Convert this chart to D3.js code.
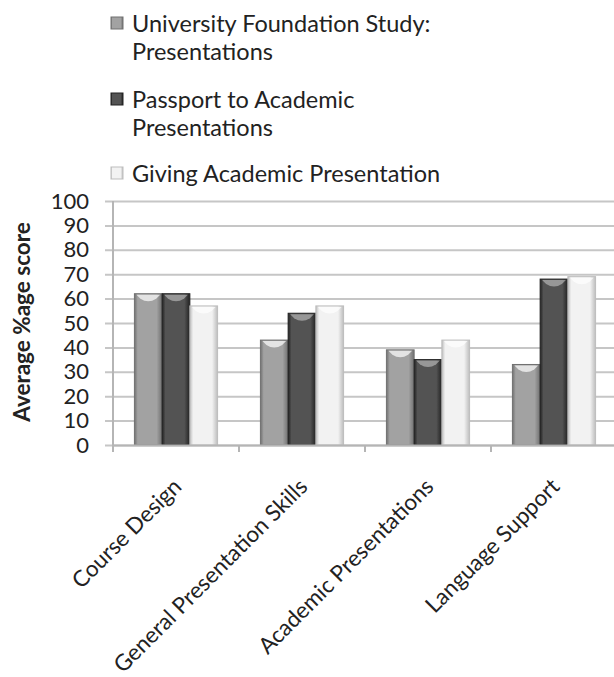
<!DOCTYPE html>
<html>
<head>
<meta charset="utf-8">
<script src="https://cdnjs.cloudflare.com/ajax/libs/d3/7.8.5/d3.min.js"></script>
<style>
  body { margin: 0; background: #fff; }
  text { font-family: Lato, "Open Sans", sans-serif; fill: #222; }
</style>
</head>
<body>
<div id="chart"></div>
<script>
const categories = ["Course Design", "General Presentation Skills", "Academic Presentations", "Language Support"];
const seriesNames = ["University Foundation Study: Presentations", "Passport to Academic Presentations", "Giving Academic Presentation"];
const foundationStudy = [62, 43, 39, 33];
const passportAcademic = [62, 54, 35, 68];
const givingAcademic = [57, 57, 43, 69];
const yTicks = [0, 10, 20, 30, 40, 50, 60, 70, 80, 90, 100];

const seriesValues = [foundationStudy, passportAcademic, givingAcademic];
// legend text split like the original wraps
const legendLines = [["University Foundation Study:", "Presentations"], ["Passport to Academic", "Presentations"], ["Giving Academic Presentation"]];
const shades = [
  { mid: "#a2a2a2", edge: "#707070" },
  { mid: "#535353", edge: "#222222" },
  { mid: "#f2f2f2", edge: "#bdbdbd" }
];

const W = 614, H = 677;
const margin = { top: 201, right: -3, bottom: 232, left: 113 };
const width = W - margin.left - margin.right;
const height = H - margin.top - margin.bottom;

const svg = d3.select("#chart").append("svg")
  .attr("width", W).attr("height", H);

const defs = svg.append("defs");
shades.forEach((s, i) => {
  const g = defs.append("linearGradient").attr("id", "bar" + i)
    .attr("x1", "0%").attr("x2", "100%").attr("y1", "0%").attr("y2", "0%");
  g.append("stop").attr("offset", "0%").attr("stop-color", s.edge);
  g.append("stop").attr("offset", "12%").attr("stop-color", s.mid);
  g.append("stop").attr("offset", "80%").attr("stop-color", s.mid);
  g.append("stop").attr("offset", "100%").attr("stop-color", s.edge);
});

const g = svg.append("g").attr("transform", `translate(${margin.left},${margin.top})`);

const x0 = d3.scaleBand().domain(categories).range([0, width]).paddingInner(0.34).paddingOuter(0.17);
const x1 = d3.scaleBand().domain(d3.range(seriesNames.length)).range([0, x0.bandwidth()]);
const y = d3.scaleLinear().domain([0, 100]).range([height, 0]);

// gridlines + y ticks
const yAxis = g.append("g")
  .call(d3.axisLeft(y).tickValues(yTicks).tickSize(-width).tickPadding(24));
yAxis.select(".domain").remove();
yAxis.selectAll(".tick line").attr("stroke", "#c6c6c6").attr("stroke-width", 2).attr("x1", -8);
yAxis.selectAll(".tick text").attr("font-size", 22).attr("fill", "#222")
  .style("font-family", "Lato, sans-serif");

g.append("line").attr("x1", 0).attr("x2", 0).attr("y1", 0).attr("y2", height)
  .attr("stroke", "#b5b5b5").attr("stroke-width", 2);

// bars
const groups = g.selectAll(".grp").data(categories).enter().append("g")
  .attr("transform", d => `translate(${x0(d)},0)`);

groups.each(function (cat, ci) {
  const gg = d3.select(this);
  seriesValues.forEach((vals, si) => {
    const bx = x1(si), bw = x1.bandwidth(), by = y(vals[ci]);
    gg.append("rect")
      .attr("x", bx).attr("y", by)
      .attr("width", bw).attr("height", height - by)
      .attr("fill", `url(#bar${si})`)
      .attr("stroke", shades[si].edge).attr("stroke-width", 1);
    // bevelled top, a chevron-ish highlight
    gg.append("path")
      .attr("d", `M${bx + 2},${by + 1}L${bx + bw - 2},${by + 1}L${bx + bw - 6},${by + 5}Q${bx + bw / 2},${by + 10} ${bx + 6},${by + 5}Z`)
      .attr("fill", "#fff").attr("opacity", si === 1 ? 0.4 : 0.7);
  });
});

// x axis
const xAxis = g.append("g").attr("transform", `translate(0,${height})`)
  .call(d3.axisBottom(x0).tickSize(0).tickFormat(""));
xAxis.select(".domain").attr("stroke", "#b5b5b5").attr("stroke-width", 2);
xAxis.selectAll(".tick").remove();
const bounds = [0].concat(categories.map(c => x0(c) + x0.bandwidth() + x0.step() * x0.paddingInner() / 2));
g.selectAll(".xtick").data(bounds).enter().append("line")
  .attr("x1", d => d).attr("x2", d => d)
  .attr("y1", height).attr("y2", height + 7)
  .attr("stroke", "#b5b5b5").attr("stroke-width", 2);

g.selectAll(".xlabel").data(categories).enter().append("text")
  .attr("transform", d => `translate(${x0(d) + x0.bandwidth() / 2 + 7},${height + 43}) rotate(-45)`)
  .attr("text-anchor", "end")
  .attr("font-size", 22.5)
  .text(d => d);

// y title
svg.append("text")
  .attr("transform", "translate(30,322) rotate(-90)")
  .attr("text-anchor", "middle")
  .attr("font-size", 22.5).attr("font-weight", "bold")
  .text("Average %age score");

// legend
const legendY = [24, 100, 174];
const leg = svg.append("g");
legendLines.forEach((lines, i) => {
  leg.append("rect")
    .attr("x", 111).attr("y", legendY[i] - 7)
    .attr("width", 12).attr("height", 12)
    .attr("fill", `url(#bar${i})`).attr("stroke", shades[i].edge);
  lines.forEach((t, j) => {
    leg.append("text")
      .attr("x", 132).attr("y", legendY[i] + j * 28)
      .attr("dy", "0.35em")
      .attr("font-size", 23.5)
      .text(t);
  });
});
</script>
</body>
</html>
